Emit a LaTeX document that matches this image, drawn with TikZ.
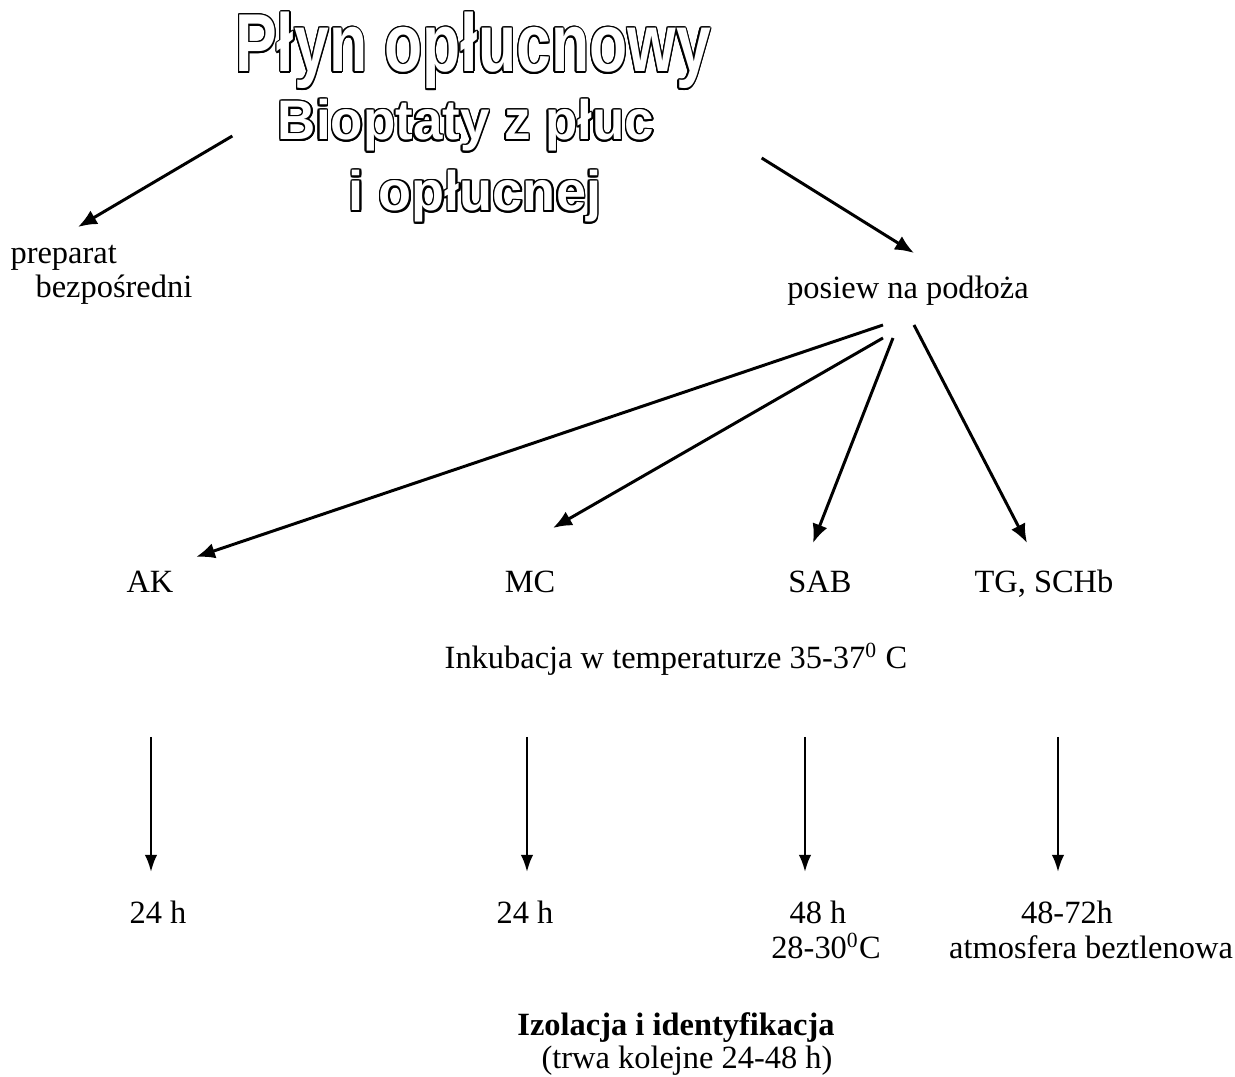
\documentclass[tikz,border=0pt]{standalone}
\usepackage{fontspec}
\setmainfont{Liberation Serif}
\newfontfamily\naglowek{Liberation Sans}
\usepackage{contour}
\contourlength{0.6pt}
\usetikzlibrary{arrows.meta,calc}

\tikzset{
  tekst/.style={inner sep=0pt, anchor=base, font=\fontsize{12}{14}\selectfont},
  tytul/.style={inner sep=0pt, anchor=base},
  strzalka/.style={line width=1.1pt, -{Latex[length=7pt,width=5.8pt]}},
  pionowa/.style={line width=0.9pt, -{Latex[length=6.3pt,width=4.6pt]}},
}

% hollow (outlined) heading text: size, horizontal scale, text
\newcommand{\obrys}[3]{\scalebox{#2}[1]{\contour{black}{\textcolor{white}{\naglowek\bfseries\fontsize{#1}{#1}\selectfont #3}}}}

\begin{document}
\begin{tikzpicture}[x=0.013cm, y=-0.013cm]
\useasboundingbox (0,0) rectangle (1235,1077);

% heading
\node[tytul] (tytul1) at (473,72) {\obrys{30.4}{0.76}{Płyn opłucnowy}};
\node[tytul] (tytul2) at (466,140) {\obrys{20.6}{0.95}{Bioptaty z płuc}};
\node[tytul] (tytul3) at (475,211) {\obrys{20.6}{0.97}{i opłucnej}};

% first level
\node[tekst, anchor=base west] (preparat) at (10,264) {preparat};
\node[tekst, anchor=base west] (bezposredni) at (35,298) {bezpośredni};
\node[tekst] (posiew) at (908,299) {posiew na podłoża};

% media
\node[tekst] (ak) at (150,593) {AK};
\node[tekst] (mc) at (530,593) {MC};
\node[tekst] (sab) at (820,593) {SAB};
\node[tekst] (tg) at (1044,593) {TG, SCHb};

\node[tekst] (inkubacja) at (676,669) {Inkubacja w temperaturze 35-37\textsuperscript{0} C};

% incubation times
\node[tekst] (czas1) at (158,924) {24 h};
\node[tekst] (czas2) at (525,924) {24 h};
\node[tekst] (czas3) at (818,924) {48 h};
\node[tekst] (temp3) at (826,959) {28-30\textsuperscript{0}C};
\node[tekst] (czas4) at (1067,924) {48-72h};
\node[tekst] (atmosfera) at (1091,959) {atmosfera beztlenowa};

\node[tekst, font=\fontsize{12}{14}\selectfont\bfseries] (izolacja) at (676,1035) {Izolacja i identyfikacja};
\node[tekst] (trwa) at (687,1069) {(trwa kolejne 24-48 h)};

% arrows
\draw[strzalka] ($(tytul2.base west)+(-45,-4)$) -- ($(preparat.base west)+(68,-37)$);
\draw[strzalka] ($(tytul2.base east)+(107,18)$) -- ($(posiew.base)+(6,-46)$);

\draw[strzalka] ($(posiew.base)+(-25,26)$) -- ($(ak.base)+(46,-36)$);
\draw[strzalka] ($(posiew.base)+(-25,39)$) -- ($(mc.base)+(23,-65)$);
\draw[strzalka] ($(posiew.base)+(-15,39)$) -- ($(sab.base)+(-7,-50)$);
\draw[strzalka] ($(posiew.base)+(6,26)$) -- ($(tg.base)+(-17,-50)$);

\draw[pionowa] ($(ak.base)+(1,144)$) -- ($(czas1.base)+(-7,-52)$);
\draw[pionowa] ($(mc.base)+(-3,144)$) -- ($(czas2.base)+(2,-52)$);
\draw[pionowa] ($(sab.base)+(-15,144)$) -- ($(czas3.base)+(-13,-52)$);
\draw[pionowa] ($(tg.base)+(14,144)$) -- ($(czas4.base)+(-9,-52)$);

\end{tikzpicture}
\end{document}
